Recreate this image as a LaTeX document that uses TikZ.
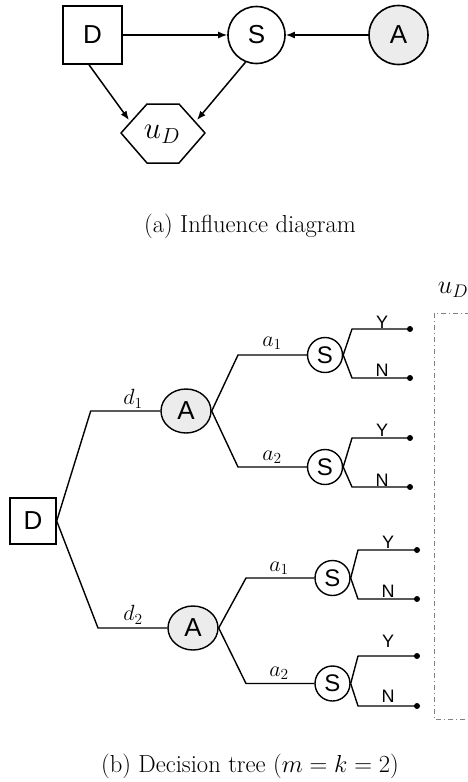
\RequirePackage{fix-cm}
\documentclass[tikz,border=0pt]{standalone}
\usepackage{fontspec}
\newfontfamily\sfnode{Liberation Sans}
\usetikzlibrary{arrows.meta,shapes.geometric}
\definecolor{chancefill}{RGB}{236,236,236}
\tikzset{
  x=1pt, y=-1pt,
  line/.style={line width=1.5pt, line join=round},
  arr/.style={line, -{Latex[length=9pt,width=7pt]}},
  dbig/.style={draw, line width=1.6pt, minimum width=59pt, minimum height=58pt, inner sep=0pt, font=\sfnode\fontsize{26}{30}\selectfont},
  cbig/.style={circle, draw, line width=1.6pt, minimum size=57pt, inner sep=0pt, font=\sfnode\fontsize{26}{30}\selectfont},
  dsmall/.style={draw, line width=1.4pt, minimum width=46pt, minimum height=46pt, inner sep=0pt, font=\sfnode\fontsize{26}{30}\selectfont},
  aell/.style={ellipse, draw, line width=1.4pt, fill=chancefill, minimum width=50pt, minimum height=44pt, inner sep=0pt, font=\sfnode\fontsize{26}{30}\selectfont},
  snode/.style={circle, draw, line width=1.4pt, minimum size=35pt, inner sep=0pt, font=\sfnode\fontsize{24}{28}\selectfont},
  leaf/.style={circle, fill=black, minimum size=6pt, inner sep=0pt},
  tl/.style={line width=1.4pt, line join=round},
  lab/.style={inner sep=0pt, font=\fontsize{22}{26}\selectfont},
  yn/.style={inner sep=0pt, font=\sfnode\fontsize{18}{21}\selectfont},
  captxt/.style={inner sep=0pt, font=\fontsize{24.6}{29}\selectfont},
  util/.style={gray, line width=0.9pt, dash pattern=on 5pt off 3pt on 1pt off 3pt}
}
\begin{document}
\begin{tikzpicture}
\useasboundingbox (0,0) rectangle (468,782);
% ---------- (a) influence diagram ----------
\node[dbig] (D) at (92.5,35) {D};
\node[cbig] (S) at (256.5,35) {S};
\node[cbig, fill=chancefill, minimum size=59pt] (A) at (398.5,35) {A};
\draw[line] (121,133) -- (147,104) -- (179,104) -- (205,133) -- (179,163) -- (147,163) -- cycle;
\node[inner sep=0pt, font=\fontsize{31}{34}\selectfont] (ud) at (162,134) {$u_D$};
\coordinate (udin1) at (129,120);
\coordinate (udin2) at (197,120);
\draw[arr] (D) -- (S);
\draw[arr] (A) -- (S);
\draw[arr] ([xshift=-3.5pt]D.south) -- (udin1);
\draw[arr] (S.-112) -- (udin2);
\node[captxt] (capa) at (250,226) {(a) Influence diagram};
% ---------- (b) decision tree ----------
\node[dsmall] (DT) at (33,521) {D};
\node[aell] (A1) at (186,411) {A};
\node[aell] (A2) at (193,628) {A};
\node[snode] (S1) at (325,355) {S};
\node[snode] (S2) at (325,467) {S};
\node[snode] (S3) at (332.5,578) {S};
\node[snode] (S4) at (332.5,683.5) {S};
\coordinate (c1) at (90.7,411);
\coordinate (c2) at (98,628);
\coordinate (c3) at (238,355);
\coordinate (c4) at (238,467);
\coordinate (c5) at (246,578);
\coordinate (c6) at (246,683.5);
\draw[tl] (DT.east) -- (c1) -- (A1.west);
\draw[tl] (DT.east) -- (c2) -- (A2.west);
\draw[tl] (A1.east) -- (c3) -- (S1.west);
\draw[tl] (A1.east) -- (c4) -- (S2.west);
\draw[tl] (A2.east) -- (c5) -- (S3.west);
\draw[tl] (A2.east) -- (c6) -- (S4.west);
\node[lab] (ld1) at (133,399) {$d_1$};
\node[lab] (ld2) at (133,615) {$d_2$};
\node[lab] (la1) at (272,343) {$a_1$};
\node[lab] (la2) at (272,457) {$a_2$};
\node[lab] (la3) at (279,568) {$a_1$};
\node[lab] (la4) at (279,673) {$a_2$};
% leaves
\node[leaf] (L1) at (410,329) {};
\node[leaf] (L2) at (410,378) {};
\node[leaf] (L3) at (410,438) {};
\node[leaf] (L4) at (410,487) {};
\node[leaf] (L5) at (417,550) {};
\node[leaf] (L6) at (417,599) {};
\node[leaf] (L7) at (417,656) {};
\node[leaf] (L8) at (417,706) {};
\coordinate (e1) at (352,329);
\coordinate (e2) at (352,378);
\coordinate (e3) at (352,438);
\coordinate (e4) at (352,487);
\coordinate (e5) at (358,550);
\coordinate (e6) at (358,599);
\coordinate (e7) at (358,656);
\coordinate (e8) at (358,706);
\draw[tl] (S1.east) -- (e1) -- (L1.center);
\draw[tl] (S1.east) -- (e2) -- (L2.center);
\draw[tl] (S2.east) -- (e3) -- (L3.center);
\draw[tl] (S2.east) -- (e4) -- (L4.center);
\draw[tl] (S3.east) -- (e5) -- (L5.center);
\draw[tl] (S3.east) -- (e6) -- (L6.center);
\draw[tl] (S4.east) -- (e7) -- (L7.center);
\draw[tl] (S4.east) -- (e8) -- (L8.center);
\node[yn] (y1) at (382,322) {Y};
\node[yn] (n1) at (382,370.5) {N};
\node[yn] (y2) at (382,430) {Y};
\node[yn] (n2) at (382,480) {N};
\node[yn] (y3) at (388,542) {Y};
\node[yn] (n3) at (388,591.5) {N};
\node[yn] (y4) at (388,641) {Y};
\node[yn] (n4) at (388,696.5) {N};
% utility column
\draw[util] (470,313) -- (434,313) -- (434,719) -- (470,719);
\node[inner sep=0pt, font=\fontsize{26}{30}\selectfont] (udt) at (453,290) {$u_D$};
\node[captxt] (capb) at (250,766) {(b) Decision tree ($m = k = 2$)};
\end{tikzpicture}
\end{document}
